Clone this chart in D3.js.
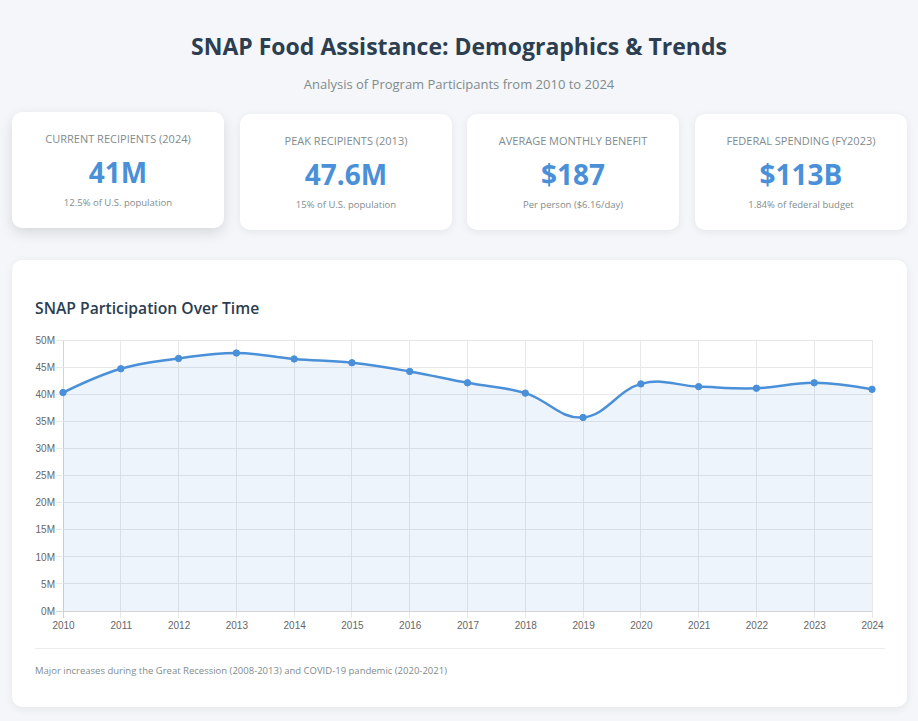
<!DOCTYPE html>
<html>
<head>
<meta charset="utf-8">
<script src="https://cdn.jsdelivr.net/npm/d3@7"></script>
<style>
  html, body { margin: 0; padding: 0; }
  body { width: 918px; height: 721px; background: #f4f6f9; font-family: "Open Sans", "Noto Sans", sans-serif; position: relative; overflow: hidden; }
  h1 { position: absolute; left: 0; width: 918px; top: 28px; margin: 0; text-align: center; font-size: 23px; font-weight: 700; color: #2c3e50; line-height: 36px; }
  .sub { position: absolute; left: 0; width: 918px; top: 74px; text-align: center; font-size: 13px; color: #7f8c8d; line-height: 20px; }
  .card { position: absolute; background: #fff; border-radius: 10px; box-shadow: 0 2px 8px rgba(0,0,0,0.07); text-align: center; }
  .card.hover { box-shadow: 0 5px 14px rgba(0,0,0,0.12); }
  .card .lab { position: absolute; left: 0; right: 0; top: 19px; font-size: 11px; color: #7f8c8d; text-transform: uppercase; line-height: 16px; }
  .card .val { position: absolute; left: 0; right: 0; top: 40px; font-size: 28px; font-weight: 700; color: #4a90d9; line-height: 40px; }
  .card .note { position: absolute; left: 0; right: 0; top: 84px; font-size: 9.5px; color: #7f8c8d; line-height: 14px; }
  .chartcard { position: absolute; left: 12px; top: 260px; width: 895px; height: 447px; background: #fff; border-radius: 10px; box-shadow: 0 2px 8px rgba(0,0,0,0.07); }
  .chartcard h2 { position: absolute; left: 23px; top: 36px; margin: 0; font-size: 15.7px; font-weight: 600; color: #2c3e50; line-height: 24px; }
  .divider { position: absolute; left: 23px; width: 850px; top: 388px; border-top: 1px solid #ececec; }
  .foot { position: absolute; left: 23px; top: 404px; font-size: 9.5px; color: #7f8c8d; line-height: 14px; }
  svg { position: absolute; left: 0; top: 0; }
</style>
</head>
<body>
<h1>SNAP Food Assistance: Demographics &amp; Trends</h1>
<div class="sub">Analysis of Program Participants from 2010 to 2024</div>
<div id="cards"></div>
<div class="chartcard" id="chartcard">
  <h2>SNAP Participation Over Time</h2>
  <div class="divider"></div>
  <div class="foot">Major increases during the Great Recession (2008-2013) and COVID-19 pandemic (2020-2021)</div>
</div>
<script>
// ---- data ----
const statLabels = ["Current Recipients (2024)", "Peak Recipients (2013)", "Average Monthly Benefit", "Federal Spending (FY2023)"];
const statValues = ["41M", "47.6M", "$187", "$113B"];
const statNotes = ["12.5% of U.S. population", "15% of U.S. population", "Per person ($6.16/day)", "1.84% of federal budget"];

const years = [2010, 2011, 2012, 2013, 2014, 2015, 2016, 2017, 2018, 2019, 2020, 2021, 2022, 2023, 2024];
const participants = [40.3, 44.7, 46.6, 47.6, 46.5, 45.8, 44.2, 42.1, 40.2, 35.7, 41.9, 41.4, 41.1, 42.1, 40.9]; // millions
const yTicks = [0, 5, 10, 15, 20, 25, 30, 35, 40, 45, 50];

// ---- cards ----
const cardLefts = [12, 240, 467, 695];
const cards = d3.select("#cards").selectAll("div.card")
  .data(statLabels.map((l, i) => ({ l, v: statValues[i], n: statNotes[i], i })))
  .join("div")
  .attr("class", d => d.i === 0 ? "card hover" : "card")
  .style("left", d => cardLefts[d.i] + "px")
  .style("top", d => (d.i === 0 ? 112 : 114) + "px")
  .style("width", "212px")
  .style("height", "116px");
cards.append("div").attr("class", "lab").text(d => d.l);
cards.append("div").attr("class", "val").text(d => d.v);
cards.append("div").attr("class", "note").text(d => d.n);

// ---- chart ----
const W = 895, H = 447;
const m = { left: 51, right: 35, top: 80, bottom: 96 };
const svg = d3.select("#chartcard").append("svg").attr("width", W).attr("height", H);

const x = d3.scaleLinear().domain([years[0], years[years.length - 1]]).range([m.left, W - m.right]);
const y = d3.scaleLinear().domain([0, 50]).range([H - m.bottom, m.top]);

const grid = svg.append("g");
grid.selectAll("line.v").data(years).join("line")
  .attr("x1", d => x(d)).attr("x2", d => x(d))
  .attr("y1", m.top).attr("y2", H - m.bottom + 7)
  .attr("stroke", d => d === years[0] ? "#d4d4d4" : "#e8e8e8").attr("stroke-width", 1)
  .attr("shape-rendering", "crispEdges");
grid.selectAll("line.h").data(yTicks).join("line")
  .attr("x1", m.left - 7).attr("x2", W - m.right)
  .attr("y1", d => y(d)).attr("y2", d => y(d))
  .attr("stroke", d => d === 0 ? "#d4d4d4" : "#e8e8e8").attr("stroke-width", 1)
  .attr("shape-rendering", "crispEdges");

const yAxis = svg.append("g").attr("transform", `translate(${m.left - 8},0)`)
  .call(d3.axisLeft(y).tickValues(yTicks).tickSize(0).tickPadding(0).tickFormat(d => d + "M"));
const xAxis = svg.append("g").attr("transform", `translate(0,${H - m.bottom + 9})`)
  .call(d3.axisBottom(x).tickValues(years).tickSize(0).tickPadding(0).tickFormat(d3.format("d")));
[yAxis, xAxis].forEach(a => {
  a.select(".domain").remove();
  a.selectAll("text").attr("fill", "#666").style("font-family", "'Liberation Sans', Arial, sans-serif").style("font-size", "10px");
});
xAxis.selectAll("text").attr("dy", "0.9em");

const curve = d3.curveCardinal.tension(-0.2);
const area = d3.area().x((d, i) => x(years[i])).y0(y(0)).y1(d => y(d)).curve(curve);
const line = d3.line().x((d, i) => x(years[i])).y(d => y(d)).curve(curve);

svg.append("path").datum(participants).attr("d", area).attr("fill", "rgba(74,144,217,0.1)");
svg.append("path").datum(participants).attr("d", line).attr("fill", "none")
  .attr("stroke", "#4a90d9").attr("stroke-width", 2.5);
svg.selectAll("circle.pt").data(participants).join("circle")
  .attr("cx", (d, i) => x(years[i])).attr("cy", d => y(d)).attr("r", 3.2)
  .attr("fill", "#4a90d9").attr("stroke", "#4a90d9").attr("stroke-width", 1);
</script>
</body>
</html>
